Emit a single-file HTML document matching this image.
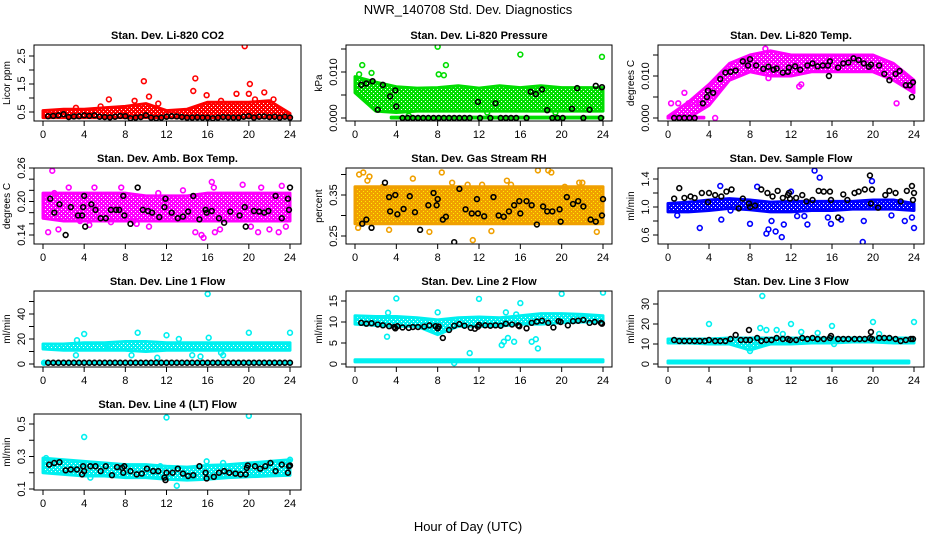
<!DOCTYPE html>
<html><head><meta charset="utf-8">
<style>
body{margin:0;background:#fff;}
svg{display:block;font-family:"Liberation Sans",sans-serif;}
</style></head>
<body>
<svg id="chart" width="936" height="540" viewBox="0 0 936 540">
<defs id="defs"></defs>
<text x="468" y="14" text-anchor="middle" font-size="13">NWR_140708  Std. Dev. Diagnostics</text>
<text x="468" y="531" text-anchor="middle" font-size="13">Hour of Day (UTC)</text>
</svg>
<script>
// ---- shared data ----
const bandHours = [0,2,4,6,8,10,12,14,16,18,20,22,24];
const xTicks = [0,4,8,12,16,20,24];

// Panel 1: CO2
const co2BandLo = [0.3,0.3,0.3,0.3,0.3,0.3,0.3,0.3,0.3,0.3,0.3,0.3,0.3];
const co2BandHi = [0.55,0.6,0.6,0.65,0.7,0.8,0.55,0.6,0.85,0.85,0.85,0.9,0.45];
const co2PtHours = [6.4,9.8,10.3,14.6,14.8,15.9,18.8,19.6,20.0,20.1,20.6,21.5,22.4,3.2,5.6,8.9,11.2,17.3];
const co2PtVals = [0.95,1.6,1.05,1.25,1.7,1.1,1.15,2.85,1.15,1.5,0.95,1.2,0.95,0.65,0.7,0.9,0.8,0.9];
const co2BlkHours = [0.5,1,1.5,2,2.5,3,3.5,4,4.5,5,5.5,6,6.5,7,7.5,8,8.5,9,9.5,10,10.5,11,11.5,12,12.5,13,13.5,14,14.5,15,15.5,16,16.5,17,17.5,18,18.5,19,19.5,20,20.5,21,21.5,22,22.5,23,23.5,24];
const co2BlkVals = [0.35,0.36,0.38,0.42,0.32,0.34,0.35,0.38,0.36,0.38,0.33,0.32,0.31,0.33,0.36,0.35,0.28,0.3,0.32,0.38,0.3,0.28,0.3,0.33,0.35,0.34,0.32,0.3,0.3,0.31,0.3,0.3,0.28,0.3,0.32,0.31,0.3,0.3,0.33,0.35,0.3,0.33,0.34,0.32,0.33,0.3,0.33,0.3];

// Panel 2: Pressure
const prsBandLo = [0.0055,0.0015,0.0012,0.0015,0.0015,0.0015,0.0015,0.0015,0.0015,0.0015,0.0015,0.0015,0.0015];
const prsBandHi = [0.009,0.0078,0.0068,0.0065,0.0066,0.007,0.0065,0.007,0.0066,0.007,0.0066,0.0066,0.0066];
const prsZeroHours = [3.5,24];
const prsZeroLo = [0,0];
const prsZeroHi = [0.0002,0.0002];
const prsPtHours = [0.7,8.0,8.8,8.1,8.6,16.0,23.9,0.4,1.6,5.2,12.8,19.4];
const prsPtVals = [0.0115,0.0155,0.0115,0.0095,0.0093,0.0138,0.0133,0.0095,0.0098,0.0005,0.0012,0.0012];
const prsBlkHours = [0.6,1.1,1.7,2.7,3.4,3.9,2.2,4.0,11.9,13.6,17.0,17.5,18.1,18.6,21.0,21.5,22.7,23.3,23.9,4.6,5.1,5.6,6.1,6.6,7.1,7.6,8.1,8.6,9.1,9.6,10.1,10.6,11.1,12.1,13.1,14.1,14.6,15.1,15.6,16.6,19.1,19.6,20.1,22.1,23.8];
const prsBlkVals = [0.0072,0.0075,0.008,0.0072,0.0047,0.006,0.0018,0.0025,0.0035,0.0032,0.0057,0.0052,0.0062,0.0017,0.002,0.0065,0.0018,0.007,0.0067,0,0,0,0,0,0,0,0,0,0,0,0,0,0,0,0,0,0,0,0,0,0,0,0,0,0];

// Panel 3: Temp
const tmpBandLo = [0,0,0.003,0.009,0.011,0.010,0.010,0.011,0.011,0.011,0.011,0.009,0.006];
const tmpBandHi = [0.0004,0.0038,0.008,0.013,0.015,0.016,0.015,0.015,0.015,0.015,0.015,0.013,0.009];
const tmpZeroHours = [0,3.5];
const tmpZeroLo = [0,0];
const tmpZeroHi = [0.0002,0.0002];
const tmpPtHours = [0.3,1.6,4.6,22.3,9.5,12.8,1.0,2.0,3.0,9.8,13.0];
const tmpPtVals = [0.0035,0.006,0,0.0035,0.0165,0.0075,0.0035,0.0035,0.0035,0.0095,0.008];
const tmpBlkHours = [0.6,1.1,1.6,2.1,2.6,3.4,3.8,3.9,4.4,5.1,5.6,6.1,6.6,7.3,7.8,8.0,8.6,9.3,9.8,10.3,10.6,11.2,11.7,11.8,12.4,12.9,13.6,14.1,14.6,15.1,15.6,15.7,15.8,16.6,17.1,17.6,18.1,18.6,19.1,19.6,19.8,20.6,21.1,21.6,22.2,22.6,23.2,23.6,23.8,23.9];
const tmpBlkVals = [0,0,0,0,0,0.0035,0.005,0.0065,0.006,0.0093,0.0108,0.011,0.0113,0.0135,0.0125,0.014,0.0125,0.0117,0.0122,0.0115,0.0118,0.0108,0.011,0.012,0.0123,0.0115,0.0125,0.013,0.0123,0.0125,0.0125,0.01,0.0135,0.012,0.013,0.0132,0.0142,0.0138,0.013,0.0122,0.0127,0.0125,0.0105,0.009,0.0105,0.0112,0.0078,0.0078,0.005,0.0085];

// Panel 4: Amb box temp
const ambBandLo = [0.17,0.165,0.165,0.165,0.165,0.165,0.165,0.165,0.165,0.165,0.165,0.165,0.165];
const ambBandHi = [0.215,0.215,0.215,0.215,0.215,0.21,0.21,0.21,0.215,0.215,0.215,0.215,0.215];
const ambPtHours = [0.5,0.9,1.1,1.5,2.5,3.6,6.6,8.8,10.3,14.8,15.4,15.6,16.4,16.6,16.7,17.2,19.4,20.2,20.9,21.2,22.0,22.9,23.6,23.2,13.6,11.2,5.0,7.6,0.2,4.5,9.1];
const ambPtVals = [0.145,0.255,0.215,0.15,0.225,0.165,0.163,0.165,0.155,0.145,0.14,0.135,0.235,0.225,0.145,0.15,0.23,0.155,0.145,0.225,0.15,0.145,0.155,0.228,0.22,0.215,0.225,0.225,0.21,0.158,0.16];
const ambBlkHours = [0.7,1.1,1.6,2.2,2.7,3.4,3.8,3.9,4.0,4.1,4.7,5.1,5.6,6.1,6.6,7.1,7.4,7.8,7.9,8.5,9.2,9.7,10.2,10.6,11.3,11.8,11.9,12.5,13.1,13.6,14.1,14.6,15.2,15.8,15.9,16.4,17.1,17.6,18.2,19.1,19.6,19.7,20.5,21.0,21.5,21.9,22.6,23.2,23.8,23.9,24.0];
const ambBlkVals = [0.205,0.18,0.195,0.14,0.19,0.175,0.175,0.19,0.21,0.155,0.195,0.185,0.17,0.17,0.185,0.185,0.185,0.21,0.175,0.16,0.225,0.185,0.183,0.18,0.172,0.19,0.205,0.18,0.17,0.173,0.182,0.21,0.168,0.185,0.18,0.183,0.17,0.162,0.182,0.175,0.19,0.155,0.183,0.182,0.18,0.183,0.21,0.17,0.205,0.185,0.225];

// Panel 5: RH
const rhBandLo = [0.28,0.28,0.28,0.28,0.28,0.28,0.28,0.28,0.28,0.28,0.28,0.28,0.28];
const rhBandHi = [0.37,0.37,0.37,0.37,0.37,0.37,0.37,0.37,0.37,0.37,0.37,0.37,0.37];
const rhPtHours = [0.4,0.8,1.4,2.7,5.6,8.4,11.4,14.7,15.1,17.7,18.7,19.0,21.7,22.0,23.4,0.3,7.2,13.2,3.3,10.9,16.2,1.2,9.4,12.3,20.3];
const rhPtVals = [0.4,0.405,0.395,0.37,0.39,0.405,0.24,0.385,0.375,0.41,0.41,0.405,0.38,0.38,0.26,0.27,0.26,0.262,0.265,0.375,0.36,0.385,0.38,0.375,0.37];
const rhBlkHours = [0.7,1.1,1.6,2.9,3.3,3.4,3.9,4.1,4.7,5.3,5.8,6.3,7.1,7.6,7.9,8.0,8.5,8.8,9.6,10.1,10.7,11.3,11.8,11.9,12.5,13.4,13.9,14.4,14.9,15.4,15.9,16.0,16.6,17.1,17.6,18.2,18.6,19.1,19.8,19.9,20.5,21.1,21.6,22.1,22.8,23.3,23.9,24.0];
const rhBlkVals = [0.28,0.29,0.27,0.38,0.345,0.31,0.35,0.303,0.316,0.347,0.308,0.265,0.325,0.355,0.325,0.34,0.29,0.297,0.235,0.365,0.315,0.305,0.34,0.305,0.298,0.345,0.3,0.297,0.31,0.325,0.335,0.305,0.335,0.325,0.278,0.322,0.31,0.31,0.315,0.285,0.345,0.328,0.335,0.322,0.29,0.285,0.3,0.34];

// Panel 6: Sample flow
const sfBandLo = [0.93,0.93,0.95,0.98,0.96,0.93,0.93,0.95,0.95,0.97,0.97,0.97,0.95];
const sfBandHi = [1.05,1.07,1.1,1.12,1.1,1.07,1.08,1.08,1.08,1.08,1.1,1.1,1.05];
const sfPtHours = [0.9,3.1,5.1,5.2,8.0,8.7,9.6,9.8,10.1,10.5,11.1,11.3,12.6,13.3,13.6,14.3,14.8,15.6,15.9,16.9,19.0,19.1,19.9,21.8,23.1,23.8,24.0,6.1,12.0];
const sfPtVals = [0.88,0.7,1.3,0.82,0.76,1.29,0.62,0.68,0.8,0.65,0.57,0.75,0.87,0.87,0.75,1.52,1.42,0.85,0.76,0.82,0.5,0.8,1.37,0.88,0.8,0.85,0.7,0.95,1.22];
const sfBlkHours = [0.6,1.1,1.6,2.2,2.6,3.3,3.9,4.0,4.6,5.2,5.7,6.2,6.9,7.3,7.9,8.0,8.5,9.1,9.7,10.2,10.7,11.2,11.7,11.8,11.9,12.5,13.1,13.5,14.1,14.7,15.2,15.8,15.9,16.6,17.1,17.5,18.2,18.6,19.2,19.7,19.8,19.9,20.5,21.2,21.6,22.2,22.7,23.3,23.8,23.9,24.0];
const sfBlkVals = [1.12,1.27,1.13,1.15,1.13,1.2,1.07,1.2,1.17,1.15,1.22,1.25,0.98,1.12,1.05,1.0,1.02,1.25,1.2,1.15,1.23,1.13,1.17,1.2,1.12,1.13,1.17,1.08,1.1,1.23,1.22,1.22,1.1,0.85,1.18,1.1,1.2,1.22,1.25,1.45,1.05,1.25,0.99,1.17,1.23,1.2,1.08,1.23,1.3,1.1,1.2];

// Panel 7: Line 1
const l1BandLo = [12,11,11,11,11,10,11,11,11,11,11,11,11];
const l1BandHi = [16,16,17,17,18,18,17,17,17,17,17,17,17];
const l1ZeroHours = [0,24];
const l1ZeroLo = [0.5,0.5];
const l1ZeroHi = [1.2,1.2];
const l1PtHours = [0.1,3.2,3.3,4.0,6.3,8.6,9.2,11.1,12.0,13.2,14.5,15.3,16.0,16.1,17.3,17.5,20.0,20.8,24.0];
const l1PtVals = [1,7,19,24,15,7,25,5,23,20,7,6,56,21,9,7,25,15,25];
const l1BlkHours = [0.5,1,1.5,2,2.5,3,3.5,4,4.5,5,5.5,6,6.5,7,7.5,8,8.5,9,9.5,10,10.5,11,11.5,12,12.5,13,13.5,14,14.5,15,15.5,16,16.5,17,17.5,18,18.5,19,19.5,20,20.5,21,21.5,22,22.5,23,23.5,24];
const l1BlkVals = [1,1,1,1,1,1,1,1,1,1,1,1,1,1,1,1,1,1,1,1,1,1,1,1,1,1,1,1,1,1,1,1,1,1,1,1,1,1,1,1,1,1,1,1,1,1,1,1];

// Panel 8: Line 2
const l2BandLo = [9.5,9.2,9,9,7.0,9,9,9,9.5,9.5,9.8,10,10];
const l2BandHi = [11.5,11.3,11.3,11,10.5,11,11.2,11,11.5,12,12,11.8,11.5];
const l2ZeroHours = [0,24];
const l2ZeroLo = [0.5,0.5];
const l2ZeroHi = [1.0,1.0];
const l2PtHours = [3.1,3.2,4.0,8.0,11.1,12.0,14.2,14.4,14.6,14.8,15.4,15.6,16.0,17.1,17.5,17.7,20.0,24.0,9.6];
const l2PtVals = [6.5,12.2,15.6,12.3,2.6,15.5,4.5,5.3,12.3,6.2,5.3,11.8,14.5,5.3,5.9,3.7,16.7,17,0.2];
const l2BlkHours = [0.6,1.1,1.6,2.2,2.7,3.3,3.8,3.9,4.1,4.6,5.2,5.6,6.1,6.7,7.2,7.8,8.0,8.1,8.5,9.1,9.6,10.1,10.6,11.2,11.6,11.9,12.0,12.6,13.1,13.6,14.1,14.6,15.2,15.8,15.9,16.6,17.1,17.6,18.1,18.7,19.2,19.7,19.9,20.6,21.1,21.6,22.1,22.7,23.2,23.8,23.9];
const l2BlkVals = [9.8,9.6,9.7,9.4,9.2,9,8.8,8.5,9,8.7,8.6,8.8,8.8,8.9,9.2,9.0,8.5,8.9,6.2,8.1,9.1,9.5,9.1,8.6,8.4,8.9,9.3,9.2,9.1,9.2,9.1,9.6,9.4,9.2,9.0,8.5,9.8,10.1,10.3,9.8,8.7,10.2,10,9.2,10.2,10.3,10.5,9.8,10,9.8,9.6];

// Panel 9: Line 3
const l3BandLo = [10.5,10.5,10,10,7,10,10,10.5,10.5,11,11,10.5,10.5];
const l3BandHi = [12.5,12.5,12.5,13,13,13,13,13,13,13,13,13,13];
const l3ZeroHours = [0,23.5];
const l3ZeroLo = [0.5,0.5];
const l3ZeroHi = [1.5,1.5];
const l3PtHours = [4.0,7.8,8.0,8.4,9.2,9.0,9.6,10.6,11.2,12.0,13.0,14.6,16.0,16.2,20.0,20.6,24.0];
const l3PtVals = [20,8,6.5,9,34,18,17,17,15,20,16,15.5,19,10,21,15,21];
const l3BlkHours = [0.6,1.1,1.6,2.1,2.6,3.1,3.6,4.0,4.6,5.1,5.6,6.1,6.6,7.1,7.6,7.9,8.0,8.7,9.1,9.6,10.1,10.6,11.2,11.7,11.9,12.5,13.1,13.6,14.1,14.6,15.2,15.8,15.9,16.6,17.1,17.6,18.2,18.7,19.2,19.7,19.8,19.9,20.6,21.1,21.6,22.2,22.7,23.2,23.7,23.9];
const l3BlkVals = [12,11.5,11.5,11.5,11.5,11.5,11.5,12,11.5,11.5,11.5,12.5,14.5,12,12,17,12,13,11.5,12,12,13,12.5,12.5,12,12,13,12.5,13,12.5,12.5,13,14,12.5,12.5,12.5,12.5,12.5,12.5,13,16,12.5,13,13,13,12.5,11.5,12,12.5,12.5];

// Panel 10: Line 4
const l4BandLo = [0.2,0.19,0.18,0.18,0.17,0.17,0.16,0.155,0.16,0.17,0.175,0.18,0.185];
const l4BandHi = [0.29,0.28,0.27,0.26,0.25,0.25,0.24,0.235,0.245,0.25,0.26,0.27,0.28];
const l4PtHours = [4.0,12.0,13.0,15.9,20.0,24.0,0.3,4.6,11.4,17.5];
const l4PtVals = [0.42,0.54,0.12,0.27,0.55,0.28,0.29,0.17,0.24,0.26];
const l4BlkHours = [0.6,1.1,1.6,2.2,2.7,3.3,3.8,3.9,4.0,4.6,5.1,5.6,6.1,6.7,7.2,7.7,7.8,7.9,8.5,9.1,9.6,10.1,10.7,11.2,11.8,11.9,12.0,12.6,13.1,13.6,14.1,14.6,15.2,15.8,15.9,16.6,17.1,17.6,18.1,18.7,19.2,19.7,19.8,19.9,20.6,21.1,21.6,22.1,22.6,23.2,23.8,23.9,24.0];
const l4BlkVals = [0.25,0.26,0.265,0.215,0.22,0.22,0.19,0.24,0.21,0.24,0.24,0.21,0.24,0.185,0.235,0.23,0.2,0.24,0.21,0.19,0.195,0.225,0.21,0.21,0.17,0.155,0.2,0.2,0.225,0.195,0.18,0.185,0.24,0.2,0.165,0.175,0.2,0.21,0.2,0.195,0.19,0.19,0.23,0.245,0.24,0.225,0.24,0.26,0.21,0.25,0.2,0.24,0.245];

// tick arrays
const co2Ticks=[0.5,1,1.5,2,2.5], co2Labels=["0.5","","1.5","","2.5"];
const prsTicks=[0,0.005,0.010,0.015], prsLabels=["0.000","","0.010",""];
const tmpTicks=[0,0.005,0.010,0.015], tmpLabels=["0.000","","0.010",""];
const ambTicks=[0.14,0.16,0.18,0.20,0.22,0.24,0.26], ambLabels=["0.14","","","0.20","","","0.26"];
const rhTicks=[0.25,0.30,0.35,0.40], rhLabels=["0.25","","0.35",""];
const sfTicks=[0.6,0.8,1.0,1.2,1.4], sfLabels=["0.6","","1.0","","1.4"];
const l1Ticks=[0,10,20,30,40,50], l1Labels=["0","","20","","40",""];
const l2Ticks=[0,5,10,15], l2Labels=["0","5","10","15"];
const l3Ticks=[0,10,20,30], l3Labels=["0","10","20","30"];
const l4Ticks=[0.1,0.2,0.3,0.4,0.5], l4Labels=["0.1","","0.3","","0.5"];

const NS="http://www.w3.org/2000/svg";
const svg=document.getElementById('chart');
const defs=document.getElementById('defs');
function mk(tag,attrs,parent){const e=document.createElementNS(NS,tag);for(const k in attrs)e.setAttribute(k,attrs[k]);(parent||svg).appendChild(e);return e;}

const COLS=[{l:34,r:301,x0:43,x1:290},{l:346,r:612,x0:355,x1:603},{l:658,r:924,x0:668,x1:914}];
const ROWS=[45,168,291,414];
const panels=[
 {id:'co2',title:'Stan. Dev. Li-820 CO2',ylab:'Licor ppm',col:0,row:0,color:'#ff0000',dot:'#ffffff',v0:0.5,p0:112,v1:2.5,p1:56,bLo:co2BandLo,bHi:co2BandHi,pH:co2PtHours,pV:co2PtVals,kH:co2BlkHours,kV:co2BlkVals,ticks:co2Ticks,labels:co2Labels},
 {id:'pressure',title:'Stan. Dev. Li-820 Pressure',ylab:'kPa',col:1,row:0,color:'#00dd00',dot:'#ffffff',v0:0,p0:118,v1:0.010,p1:72,bLo:prsBandLo,bHi:prsBandHi,zH:prsZeroHours,zLo:prsZeroLo,zHi:prsZeroHi,pH:prsPtHours,pV:prsPtVals,kH:prsBlkHours,kV:prsBlkVals,ticks:prsTicks,labels:prsLabels},
 {id:'temp',title:'Stan. Dev. Li-820 Temp.',ylab:'degrees C',col:2,row:0,color:'#ff00ff',dot:'#ffffff',v0:0,p0:118,v1:0.010,p1:76,bLo:tmpBandLo,bHi:tmpBandHi,zH:tmpZeroHours,zLo:tmpZeroLo,zHi:tmpZeroHi,pH:tmpPtHours,pV:tmpPtVals,kH:tmpBlkHours,kV:tmpBlkVals,ticks:tmpTicks,labels:tmpLabels},
 {id:'amb-box',title:'Stan. Dev. Amb. Box Temp.',ylab:'degrees C',col:0,row:1,color:'#ff00ff',dot:'#ffffff',v0:0.14,p0:235,v1:0.26,p1:168,bLo:ambBandLo,bHi:ambBandHi,pH:ambPtHours,pV:ambPtVals,kH:ambBlkHours,kV:ambBlkVals,ticks:ambTicks,labels:ambLabels},
 {id:'rh',title:'Stan. Dev. Gas Stream RH',ylab:'percent',col:1,row:1,color:'#f0a000',dot:'#ffee00',v0:0.25,p0:236,v1:0.35,p1:195,bLo:rhBandLo,bHi:rhBandHi,pH:rhPtHours,pV:rhPtVals,kH:rhBlkHours,kV:rhBlkVals,ticks:rhTicks,labels:rhLabels},
 {id:'sample-flow',title:'Stan. Dev. Sample Flow',ylab:'ml/min',col:2,row:1,color:'#0000ff',dot:'#ffffff',v0:0.6,p0:235,v1:1.4,p1:179,bLo:sfBandLo,bHi:sfBandHi,pH:sfPtHours,pV:sfPtVals,kH:sfBlkHours,kV:sfBlkVals,ticks:sfTicks,labels:sfLabels},
 {id:'line1',title:'Stan. Dev. Line 1 Flow',ylab:'ml/min',col:0,row:2,color:'#00f0f0',dot:'#ffffff',v0:0,p0:364,v1:40,p1:314,bLo:l1BandLo,bHi:l1BandHi,zH:l1ZeroHours,zLo:l1ZeroLo,zHi:l1ZeroHi,pH:l1PtHours,pV:l1PtVals,kH:l1BlkHours,kV:l1BlkVals,ticks:l1Ticks,labels:l1Labels},
 {id:'line2',title:'Stan. Dev. Line 2 Flow',ylab:'ml/min',col:1,row:2,color:'#00f0f0',dot:'#ffffff',v0:0,p0:364,v1:15,p1:301,bLo:l2BandLo,bHi:l2BandHi,zH:l2ZeroHours,zLo:l2ZeroLo,zHi:l2ZeroHi,pH:l2PtHours,pV:l2PtVals,kH:l2BlkHours,kV:l2BlkVals,ticks:l2Ticks,labels:l2Labels},
 {id:'line3',title:'Stan. Dev. Line 3 Flow',ylab:'ml/min',col:2,row:2,color:'#00f0f0',dot:'#ffffff',v0:0,p0:364,v1:30,p1:304,bLo:l3BandLo,bHi:l3BandHi,zH:l3ZeroHours,zLo:l3ZeroLo,zHi:l3ZeroHi,pH:l3PtHours,pV:l3PtVals,kH:l3BlkHours,kV:l3BlkVals,ticks:l3Ticks,labels:l3Labels},
 {id:'line4',title:'Stan. Dev. Line 4 (LT) Flow',ylab:'ml/min',col:0,row:3,color:'#00f0f0',dot:'#ffffff',v0:0.1,p0:489,v1:0.5,p1:424,bLo:l4BandLo,bHi:l4BandHi,pH:l4PtHours,pV:l4PtVals,kH:l4BlkHours,kV:l4BlkVals,ticks:l4Ticks,labels:l4Labels}
];

panels.forEach(p=>{
  const c=COLS[p.col], top=ROWS[p.row], bot=top+76;
  const xs=h=>c.x0+(h/24)*(c.x1-c.x0);
  const ys=v=>p.p0+(v-p.v0)*(p.p1-p.p0)/(p.v1-p.v0);
  // texture pattern
  const pat=mk('pattern',{id:'pat-'+p.id,width:4,height:4,patternUnits:'userSpaceOnUse'},defs);
  mk('rect',{x:0,y:0,width:4,height:4,fill:p.color},pat);
  mk('rect',{x:1,y:1,width:1,height:1,fill:p.dot},pat);
  mk('rect',{x:3,y:3,width:1,height:1,fill:p.dot},pat);
  const g=mk('g',{});
  
  
  const t=mk('text',{x:(c.l+c.r)/2,y:top-6,'text-anchor':'middle','font-size':'11','font-weight':'bold'},g);
  t.textContent=p.title;
  
  
  const cp=mk('clipPath',{id:'cp-'+p.id},g);
  mk('rect',{x:c.l,y:top,width:c.r-c.l,height:bot-top},cp);
  const plot=mk('g',{'clip-path':'url(#cp-'+p.id+')'},g);
  function band(H,lo,hi,name){
    let d='';
    H.forEach((h,i)=>{d+=(i?'L':'M')+xs(h).toFixed(1)+','+ys(hi[i]).toFixed(1);});
    for(let i=H.length-1;i>=0;i--)d+='L'+xs(H[i]).toFixed(1)+','+ys(lo[i]).toFixed(1);
    const b=mk('path',{d:d+'Z',fill:'url(#pat-'+p.id+')',stroke:p.color,'stroke-width':'3','stroke-linejoin':'round'},plot);
    
    
  }
  band(bandHours,p.bLo,p.bHi,'dense-cloud');
  if(p.zH) band(p.zH,p.zLo,p.zHi,'zero-cloud');
  p.pH.forEach((h,i)=>{
    const pt=mk('circle',{cx:xs(h),cy:ys(p.pV[i]),r:2.4,fill:'none',stroke:p.color,'stroke-width':'1.6'},plot);
    
    
  });
  p.kH.forEach((h,i)=>{
    const pt=mk('circle',{cx:xs(h),cy:ys(p.kV[i]),r:2.4,fill:'none',stroke:'#000','stroke-width':'1.6'},plot);
    
    
  });
  const box=mk('rect',{x:c.l,y:top,width:c.r-c.l,height:bot-top,fill:'none',stroke:'#000','stroke-width':'1'},g);
  
  
  xTicks.forEach(v=>{
    mk('line',{x1:xs(v),x2:xs(v),y1:bot,y2:bot+5,stroke:'#000'},g);
    const tl=mk('text',{x:xs(v),y:bot+17,'text-anchor':'middle','font-size':'11'},g);
    tl.textContent=v;
    
    
  });
  p.ticks.forEach((v,i)=>{
    const y=ys(v);
    if(y<top-1||y>bot+1) return;
    mk('line',{x1:c.l-5,x2:c.l,y1:y,y2:y,stroke:'#000'},g);
    if(p.labels[i]){
      const tl=mk('text',{x:c.l-9,y:y,'text-anchor':'middle','font-size':'11',transform:'rotate(-90 '+(c.l-9)+' '+y+')'},g);
      tl.textContent=p.labels[i];
      
      
    }
  });
  const yl=mk('text',{x:c.l-24,y:(top+bot)/2,'text-anchor':'middle','font-size':'10',transform:'rotate(-90 '+(c.l-24)+' '+(top+bot)/2+')'},g);
  yl.textContent=p.ylab;
  
  
});
</script>
</body></html>
